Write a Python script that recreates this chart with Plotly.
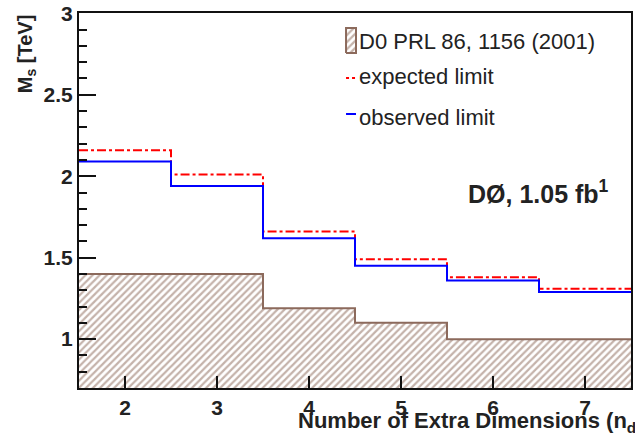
import plotly.graph_objects as go

n_dims = [2, 3, 4, 5, 6, 7]
expected = [2.16, 2.01, 1.66, 1.49, 1.38, 1.31]
observed = [2.09, 1.94, 1.62, 1.45, 1.36, 1.29]
prl2001 = [1.40, 1.40, 1.19, 1.10, 1.00, 1.00]
y_ticks = [1, 1.5, 2, 2.5, 3]

X_RANGE = [1.5, 7.5]
Y_RANGE = [0.7, 3.002]

edges = [n - 0.5 for n in n_dims] + [n_dims[-1] + 0.5]


def step(vals):
    return vals + [vals[-1]]


BROWN = "#8c6a5c"
FONT = "Liberation Sans"

L, R, T, B = 79, 2, 13, 51
W, H = 635 - L - R, 439 - T - B


def px(x):
    return (x - L) / W


def py(y):
    return 1 - (y - T) / H


def dx(x):
    return X_RANGE[0] + px(x) * (X_RANGE[1] - X_RANGE[0])


def dy(y):
    return Y_RANGE[0] + py(y) * (Y_RANGE[1] - Y_RANGE[0])


fig = go.Figure()
fig.add_trace(go.Scatter(
    x=edges, y=step(prl2001), mode="lines", line=dict(shape="hv", color=BROWN, width=2),
    fill="tozeroy", fillcolor="white",
    fillpattern=dict(shape="/", fgcolor="#8a6656", bgcolor="white", size=5, solidity=0.45),
    showlegend=False, hoverinfo="skip"))
fig.add_trace(go.Scatter(
    x=edges, y=step(expected), mode="lines",
    line=dict(shape="hv", color="#ff0000", width=2, dash="dashdot"),
    showlegend=False))
fig.add_trace(go.Scatter(
    x=edges, y=step(observed), mode="lines",
    line=dict(shape="hv", color="#0000ff", width=2),
    showlegend=False))
fig.add_trace(go.Scatter(
    x=[dx(347), dx(357), dx(357), dx(347), dx(347)],
    y=[dy(53), dy(53), dy(28), dy(28), dy(53)],
    mode="lines", line=dict(color=BROWN, width=2), fill="toself", fillcolor="white",
    fillpattern=dict(shape="/", fgcolor="#8a6656", bgcolor="white", size=5, solidity=0.45),
    showlegend=False, hoverinfo="skip"))

fig.update_layout(
    width=635, height=439,
    margin=dict(l=L, r=R, t=T, b=B),
    plot_bgcolor="white",
    xaxis=dict(range=X_RANGE, tickmode="linear", tick0=n_dims[0],
               dtick=n_dims[1] - n_dims[0], ticks="inside", ticklen=12,
               tickwidth=2, tickcolor="#111", showline=True, linecolor="#111",
               linewidth=2, mirror=True, showgrid=False, zeroline=False,
               tickfont=dict(size=21, color="#222", family=FONT, weight="bold")),
    yaxis=dict(range=Y_RANGE, tickmode="linear", tick0=y_ticks[0],
               dtick=y_ticks[1] - y_ticks[0],
               ticks="inside", ticklen=17, tickwidth=2, tickcolor="#111",
               showline=True, linecolor="#111", linewidth=2, mirror=True,
               showgrid=False, zeroline=False,
               minor=dict(dtick=0.1, ticks="inside", ticklen=8, tickwidth=2,
                          tickcolor="#111", showgrid=False),
               tickfont=dict(size=21, color="#222", family=FONT, weight="bold")),
)

fig.add_annotation(text="<b>Number of Extra Dimensions (n<sub>d</sub>)</b>",
                   xref="paper", yref="paper", x=px(648), y=py(422), xanchor="right",
                   yanchor="middle", showarrow=False,
                   font=dict(family=FONT, size=22, color="#222"))
fig.add_annotation(text="<b>M<sub>s</sub> [TeV]</b>", textangle=-90,
                   xref="paper", yref="paper", x=px(12), y=py(12), xanchor="left",
                   yanchor="top", showarrow=False,
                   font=dict(family=FONT, size=20, color="#222"))
fig.add_annotation(text="<b>DØ, 1.05 fb<sup>1</sup></b>", xref="paper", yref="paper",
                   x=px(467), y=py(192), xanchor="left", yanchor="middle",
                   showarrow=False, font=dict(family=FONT, size=25, color="#222"))

fig.add_shape(type="line", xref="paper", yref="paper", x0=px(347), x1=px(357),
              y0=py(78), y1=py(78), line=dict(color="#ff0000", width=2, dash="dot"))
fig.add_shape(type="line", xref="paper", yref="paper", x0=px(347), x1=px(357),
              y0=py(114), y1=py(114), line=dict(color="#0000ff", width=2))
legend_labels = ["D0 PRL 86, 1156 (2001)", "expected limit", "observed limit"]
legend_y = [41, 76, 117]
for lab, yy in zip(legend_labels, legend_y):
    fig.add_annotation(text=lab, xref="paper", yref="paper", x=px(358), y=py(yy),
                       xanchor="left", yanchor="middle", showarrow=False,
                       font=dict(family=FONT, size=22, color="#222"))

fig.write_html("out.html")
